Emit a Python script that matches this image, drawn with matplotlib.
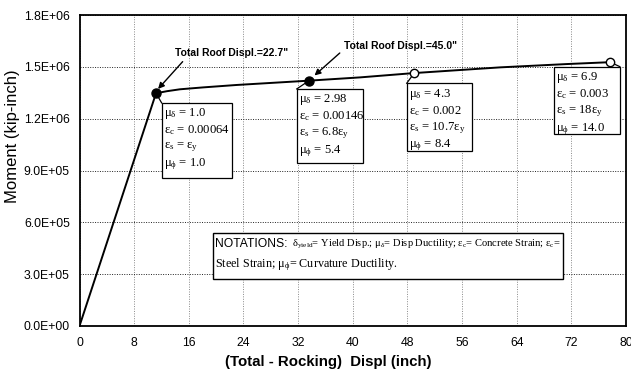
import numpy as np
import matplotlib.pyplot as plt
from matplotlib.ticker import FuncFormatter, MultipleLocator

plt.rcParams['font.family'] = ['Liberation Sans', 'DejaVu Sans']
plt.rcParams['mathtext.fontset'] = 'custom'
plt.rcParams['mathtext.rm'] = 'Liberation Serif'
plt.rcParams['mathtext.it'] = 'Liberation Serif:italic'
plt.rcParams['mathtext.sf'] = 'Liberation Sans'
plt.rcParams['mathtext.default'] = 'regular'

# Pushover curve
disp = [0, 11.2, 12.8, 14.7, 18.1, 23.0, 33.6, 41.1, 49.0, 61.6, 71.3, 77.7]
moment = [0, 1.347e6, 1.359e6, 1.370e6, 1.381e6, 1.395e6, 1.420e6, 1.439e6,
          1.464e6, 1.497e6, 1.516e6, 1.527e6]

# Marked states
key_disp = [11.2, 33.6, 49.0, 77.7]
key_moment = [1.347e6, 1.420e6, 1.464e6, 1.527e6]
key_filled = [True, True, False, False]
mu_delta = ["1.0", "2.98", "4.3", "6.9"]
eps_c = ["0.00064", "0.00146", "0.002", "0.003"]
eps_s = ["", "6.8", "10.7", "18"]
mu_phi = ["1.0", "5.4", "8.4", "14.0"]
roof_labels = ['Total Roof Displ.=22.7"', 'Total Roof Displ.=45.0"']

fig = plt.figure(figsize=(6.31, 3.82), dpi=100)
ax = fig.add_axes([79.5 / 631, 56 / 382, (626 - 79.5) / 631, (326 - 15) / 382])

ax.plot(disp, moment, color="black", lw=1.4, zorder=3)
for x, y, f in zip(key_disp, key_moment, key_filled):
    ax.plot(x, y, "o", ms=6.5 if f else 6, mfc="black" if f else "white",
            mec="black", mew=1.0, zorder=6)

ax.set_xlim(0, 80)
ax.set_ylim(0, 1.8e6)
ax.xaxis.set_major_locator(MultipleLocator(8))
ax.yaxis.set_major_locator(MultipleLocator(3e5))
ax.yaxis.set_major_formatter(FuncFormatter(lambda v, p: "%.1E" % v))
ax.tick_params(length=0, labelsize=8.8)
ax.tick_params(axis="y", pad=7)
ax.tick_params(axis="x", pad=8)
ax.grid(axis="x", ls=(0, (1, 1.5)), color="#888888", lw=0.7)
ax.grid(axis="y", ls=(0, (1, 1.5)), color="#222222", lw=0.7)
for s in ax.spines.values():
    s.set_linewidth(1.3)

fig.text(328 / 631, 1 - 362 / 382, "(Total - Rocking)  Displ (inch)", ha="center",
         va="center", fontsize=10.8, fontweight="bold")
fig.text(13 / 631, 1 - 136 / 382, "Moment (kip-inch)", rotation=90, ha="center",
         va="center", fontsize=12)

# value boxes: (left, right, top, bottom) in data units, and which corner the leader hits
boxes = [(12.03, 22.37, 1.291e6, 0.858e6), (31.80, 41.47, 1.372e6, 0.942e6),
         (47.90, 57.50, 1.405e6, 1.013e6), (69.50, 79.10, 1.501e6, 1.110e6)]
leader_right = [False, False, False, True]
for i, (x0, x1, yt, yb) in enumerate(boxes):
    ax.add_patch(plt.Rectangle((x0, yb), x1 - x0, yt - yb, fc="white", ec="black",
                               lw=0.9, zorder=4))
    cx = x1 if leader_right[i] else x0
    ax.plot([key_disp[i], cx], [key_moment[i], yt], color="black", lw=0.9, zorder=4)
    es = (r"$\varepsilon_s$ = $\varepsilon_y$" if eps_s[i] == ""
          else r"$\varepsilon_s$ = %s$\varepsilon_y$" % eps_s[i])
    txt = "\n".join([r"$\mu_\delta$ = " + mu_delta[i],
                     r"$\varepsilon_c$ = " + eps_c[i],
                     es,
                     r"$\mu_\phi$ = " + mu_phi[i]])
    ax.text(x0 + 0.3, yt - 0.02e6, txt, ha="left", va="top", fontsize=9.1,
            family="Liberation Serif", linespacing=1.22, zorder=5)

# roof displacement call-outs
ax.text(22.2, 1.578e6, roof_labels[0], ha="center", va="center", fontsize=7.5,
        fontweight="bold")
ax.annotate("", xy=(key_disp[0] + 0.3, key_moment[0] + 2.5e4), xytext=(15.1, 1.530e6),
            arrowprops=dict(arrowstyle="-|>", color="black", lw=1.0,
                            mutation_scale=9, shrinkA=0, shrinkB=0))
ax.text(47.0, 1.621e6, roof_labels[1], ha="center", va="center", fontsize=7.5,
        fontweight="bold")
ax.annotate("", xy=(34.4, 1.450e6), xytext=(38.1, 1.580e6),
            arrowprops=dict(arrowstyle="-|>", color="black", lw=1.0,
                            mutation_scale=9, shrinkA=0, shrinkB=0))

# notations box
ax.add_patch(plt.Rectangle((19.5, 0.270e6), 51.3, 0.266e6, fc="white", ec="black",
                           lw=1.0, zorder=5))
ax.text(19.85, 0.459e6, "NOTATIONS:", va="baseline", ha="left", fontsize=8.7, zorder=6)
ax.text(31.1, 0.459e6,
        r"$\delta_{yield}$= Yield Disp.; $\mu_\delta$= Disp Ductility; "
        r"$\varepsilon_c$= Concrete Strain; $\varepsilon_c$=",
        va="baseline", ha="left", fontsize=7.6, family="Liberation Serif", zorder=6)
ax.text(19.85, 0.340e6, r"Steel Strain; $\mu_\phi$= Curvature Ductility.", fontsize=8.7,
        va="baseline", family="Liberation Serif", zorder=6)

fig.savefig("out.png", dpi=100)
